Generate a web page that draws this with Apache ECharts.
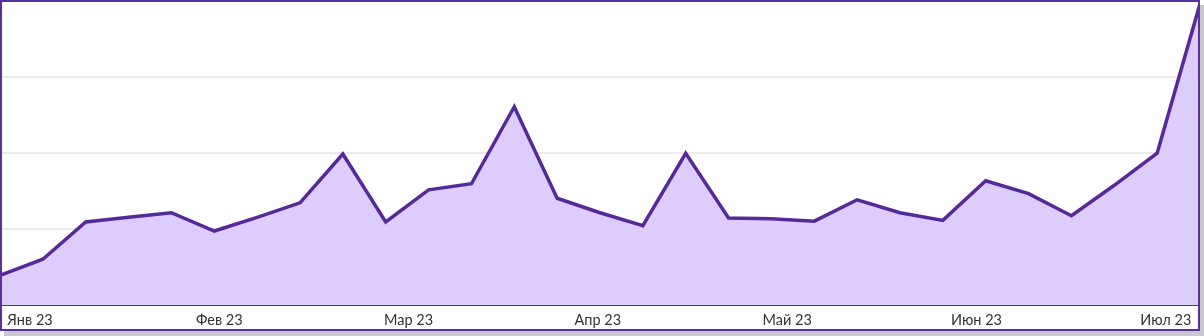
<!DOCTYPE html>
<html lang="ru">
<head>
<meta charset="utf-8">
<title>Динамика по неделям</title>
<script src="https://cdn.jsdelivr.net/npm/echarts@6/dist/echarts.min.js"></script>
<style>
  html, body { margin: 0; padding: 0; background: #ffffff; }
  #wrap { position: absolute; left: 0; top: 0; width: 1200px; height: 331px; box-shadow: 4px 5px 0 #cac8ce; }
  #chart { position: absolute; left: 0; top: 0; width: 1200px; height: 331px; }
  #frame { position: absolute; left: 0; top: 0; width: 1200px; height: 331px; box-sizing: border-box;
           border: 2px solid #5a2f9e; pointer-events: none; }
</style>
</head>
<body>
<div id="wrap">
  <div id="chart"></div>
  <div id="frame"></div>
</div>
<script>
// Weekly values, one per week, first week at index 0
const weeklyValues = [
  39, 60, 109, 115, 121, 97, 115, 134, 198, 109,
  151, 159, 260, 140, 121, 104, 199, 114, 113, 110,
  138, 121, 111, 163, 146, 117, 157, 199, 395
];

// Month tick labels along the bottom
const monthLabels = ['Янв 23', 'Фев 23', 'Мар 23', 'Апр 23', 'Май 23', 'Июн 23', 'Июл 23'];
const monthTicks = [0, 1, 2, 3, 4, 5, 6];

// Y scale
const yMax = 400;
const yStep = 100;

const points = weeklyValues.map((v, i) => [i, v]);

const chart = echarts.init(document.getElementById('chart'), null, { renderer: 'canvas' });
chart.setOption({
  animation: false,
  grid: { left: 0, right: 0, top: 0, bottom: 26, containLabel: false },
  xAxis: [
    {
      type: 'value',
      min: 0,
      max: weeklyValues.length - 1,
      axisLine: { show: true, lineStyle: { color: '#5a2f9e', width: 2 } },
      axisTick: { show: false },
      axisLabel: { show: false },
      splitLine: { show: false }
    },
    {
      type: 'value',
      position: 'bottom',
      min: -0.1585,
      max: 6.1807,
      axisLine: { show: false },
      axisTick: { show: false },
      splitLine: { show: false },
      axisLabel: {
        show: true,
        customValues: monthTicks,
        formatter: (v) => monthLabels[Math.round(v)],
        color: '#333333',
        fontFamily: 'Lato, "Noto Sans", sans-serif',
        fontSize: 14.5,
        margin: 8
      }
    }
  ],
  yAxis: {
    type: 'value',
    min: 0,
    max: yMax,
    interval: yStep,
    axisLine: { show: false },
    axisTick: { show: false },
    axisLabel: { show: false },
    splitLine: { show: true, lineStyle: { color: '#ebebeb', width: 2 } }
  },
  series: [
    {
      type: 'line',
      xAxisIndex: 0,
      data: points,
      smooth: false,
      symbol: 'none',
      lineStyle: { color: '#55299a', width: 3.5, join: 'miter' },
      areaStyle: { color: '#dccdfd', opacity: 1 },
      z: 3
    }
  ]
});
</script>
</body>
</html>
